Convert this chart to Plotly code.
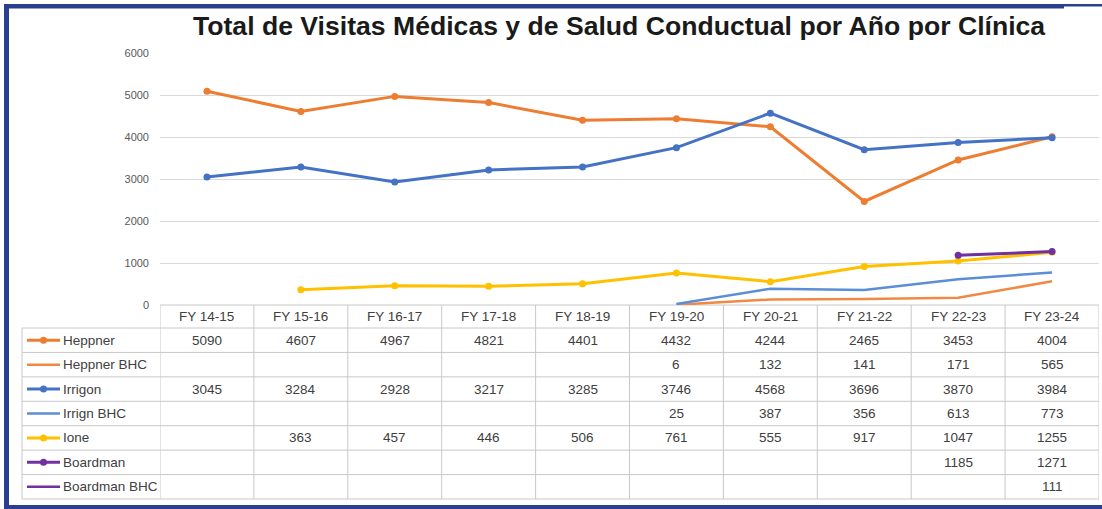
import plotly.graph_objects as go

W, H = 1102, 509

years = ["FY 14-15", "FY 15-16", "FY 16-17", "FY 17-18", "FY 18-19",
         "FY 19-20", "FY 20-21", "FY 21-22", "FY 22-23", "FY 23-24"]

heppner = [5090, 4607, 4967, 4821, 4401, 4432, 4244, 2465, 3453, 4004]
heppner_bhc = [None, None, None, None, None, 6, 132, 141, 171, 565]
irrigon = [3045, 3284, 2928, 3217, 3285, 3746, 4568, 3696, 3870, 3984]
irrign_bhc = [None, None, None, None, None, 25, 387, 356, 613, 773]
ione = [None, 363, 457, 446, 506, 761, 555, 917, 1047, 1255]
boardman = [None, None, None, None, None, None, None, None, 1185, 1271]
boardman_bhc = [None, None, None, None, None, None, None, None, None, 111]

series_names = ["Heppner", "Heppner BHC", "Irrigon", "Irrign BHC", "Ione", "Boardman", "Boardman BHC"]
series_values = [heppner, heppner_bhc, irrigon, irrign_bhc, ione, boardman, boardman_bhc]
series_colors = ["#ED7D31", "#EF8A45", "#4472C4", "#5B8ED6", "#FFC000", "#7030A0", "#7030A0"]
series_markers = [True, False, True, False, True, True, False]

y_ticks = [0, 1000, 2000, 3000, 4000, 5000, 6000]
title = "Total de Visitas Médicas y de Salud Conductual por Año por Clínica"


def px_x(p):
    return p / W


def px_y(p):
    return 1 - p / H


PLOT_L, PLOT_R = 160, 1099
PLOT_T, PLOT_B = 53, 305
HEAD_B = 328
ROW_H = (499 - 328) / 7
LEG_L = 22
GRID = "#C8C8C8"
TXT = "#404040"
FONT = "Liberation Sans"

fig = go.Figure()
xs = list(range(len(years)))
for name, vals, col, mk in zip(series_names, series_values, series_colors, series_markers):
    fig.add_trace(go.Scatter(
        x=xs, y=vals, name=name,
        mode="lines+markers" if mk else "lines",
        line=dict(color=col, width=3 if mk else 2.5),
        marker=dict(size=7, color=col),
        connectgaps=False, showlegend=False, cliponaxis=False,
    ))

shapes = []
annotations = []

# outer frame
navy = "#2A3F8F"
shapes.append(dict(type="rect", xref="paper", yref="paper", x0=px_x(4), x1=px_x(9), y0=px_y(509), y1=px_y(4),
                   fillcolor=navy, line=dict(width=0), layer="above"))
shapes.append(dict(type="rect", xref="paper", yref="paper", x0=px_x(4), x1=px_x(1064), y0=px_y(8.5), y1=px_y(4),
                   fillcolor=navy, line=dict(width=0), layer="above"))
shapes.append(dict(type="rect", xref="paper", yref="paper", x0=px_x(1064), x1=1, y0=px_y(6.5), y1=px_y(4),
                   fillcolor=navy, line=dict(width=0), layer="above"))
shapes.append(dict(type="rect", xref="paper", yref="paper", x0=px_x(4), x1=1, y0=0, y1=px_y(505),
                   fillcolor=navy, line=dict(width=0), layer="above"))

# table horizontal lines
shapes.append(dict(type="line", xref="x", yref="paper", x0=-0.5, x1=len(years) - 0.5,
                   y0=px_y(PLOT_B), y1=px_y(PLOT_B), line=dict(color=GRID, width=1), layer="below"))
for k in range(len(series_names) + 1):
    yy = px_y(HEAD_B + k * ROW_H)
    shapes.append(dict(type="line", xref="paper", yref="paper", x0=px_x(LEG_L), x1=px_x(PLOT_R),
                       y0=yy, y1=yy, line=dict(color=GRID, width=1), layer="below"))
# vertical lines
for i in range(len(years) + 1):
    shapes.append(dict(type="line", xref="x", yref="paper", x0=i - 0.5, x1=i - 0.5,
                       y0=px_y(PLOT_B), y1=px_y(HEAD_B + 7 * ROW_H), line=dict(color=GRID, width=1), layer="below"))
shapes.append(dict(type="line", xref="paper", yref="paper", x0=px_x(LEG_L), x1=px_x(LEG_L),
                   y0=px_y(HEAD_B), y1=px_y(HEAD_B + 7 * ROW_H), line=dict(color=GRID, width=1), layer="below"))

# header labels
for i, yr in enumerate(years):
    annotations.append(dict(x=i, y=px_y((PLOT_B + HEAD_B) / 2), xref="x", yref="paper", text=yr,
                            showarrow=False, font=dict(family=FONT, size=13.5, color=TXT),
                            xanchor="center", yanchor="middle"))

# rows
for k, (name, vals, col, mk) in enumerate(zip(series_names, series_values, series_colors, series_markers)):
    cy = px_y(HEAD_B + (k + 0.5) * ROW_H)
    shapes.append(dict(type="line", xref="paper", yref="paper", x0=px_x(27), x1=px_x(60), y0=cy, y1=cy,
                       line=dict(color=col, width=3 if mk else 2.5)))
    if mk:
        shapes.append(dict(type="circle", xref="paper", yref="paper", xsizemode="pixel", ysizemode="pixel",
                           xanchor=px_x(43.5), yanchor=cy, x0=-3.5, x1=3.5, y0=-3.5, y1=3.5,
                           fillcolor=col, line=dict(width=0)))
    annotations.append(dict(x=px_x(61), y=cy, xref="paper", yref="paper", text=name, showarrow=False,
                            font=dict(family=FONT, size=13.5, color=TXT), xanchor="left", yanchor="middle"))
    for i, v in enumerate(vals):
        if v is not None:
            annotations.append(dict(x=i, y=cy, xref="x", yref="paper", text=str(v), showarrow=False,
                                    font=dict(family=FONT, size=13.5, color=TXT),
                                    xanchor="center", yanchor="middle"))

annotations.append(dict(x=px_x(619), y=px_y(26), xref="paper", yref="paper", text="<b>" + title + "</b>",
                        showarrow=False, font=dict(family=FONT, size=26.6, color="#1A1A1A"),
                        xanchor="center", yanchor="middle"))

fig.update_layout(
    width=W, height=H,
    margin=dict(l=0, r=0, t=0, b=0, pad=0, autoexpand=False),
    paper_bgcolor="white", plot_bgcolor="white",
    xaxis=dict(domain=[px_x(PLOT_L), px_x(PLOT_R)], range=[-0.5, len(years) - 0.5], automargin=False,
               showticklabels=False, showgrid=False, zeroline=False, showline=False),
    yaxis=dict(domain=[px_y(PLOT_B), px_y(PLOT_T)], range=[0, 6000], tickvals=y_ticks, automargin=False,
               showgrid=True, gridcolor="#D9D9D9", gridwidth=1, zeroline=False, showline=False,
               tickfont=dict(family=FONT, size=11, color="#595959"), ticklabelstandoff=10),
    shapes=shapes, annotations=annotations,
)

fig.write_html("out.html", config={"displayModeBar": False},
               post_script="document.body.style.margin='0';document.body.style.overflow='hidden';")
